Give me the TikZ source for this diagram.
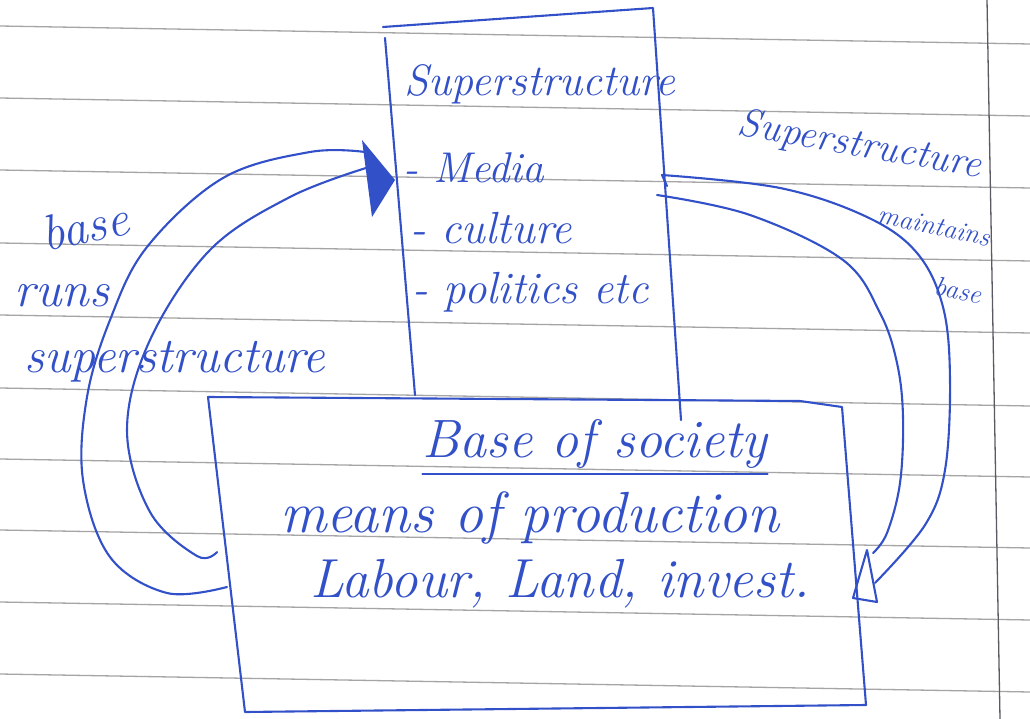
\documentclass[tikz,border=0pt]{standalone}
\usetikzlibrary{arrows.meta}
\definecolor{ink}{RGB}{50,80,200}
\definecolor{rulegray}{RGB}{165,165,165}
\definecolor{margingray}{RGB}{90,90,100}
\begin{document}
\begin{tikzpicture}[x=1pt,y=-1pt,
  inkline/.style={draw=ink,line width=2.1pt,line join=round,line cap=round},
  ruleline/.style={draw=rulegray,line width=1.3pt},
  hand/.style={text=ink,inner sep=0pt,font=\itshape\fontsize{#1}{#1}\selectfont},
  hand/.default=40]
\useasboundingbox (0,0) rectangle (1030,719);
\fill[white] (0,0) rectangle (1030,719);
% ruled paper
\foreach \yy in {26,98,170,243,315,388,459,530,602,674}
  \draw[ruleline] (0,\yy) -- (1030,\yy+18);
\coordinate (mgT) at (987,0);
\coordinate (mgB) at (1000,719);
\draw[draw=margingray,line width=1.3pt] (mgT) -- (mgB);

% superstructure box
\coordinate (sTL) at (383,27);
\coordinate (sTR) at (653,8);
\coordinate (sLt) at (385,38);
\coordinate (sLb) at (415,395);
\coordinate (sRb) at (681,420);
\draw[inkline] (sTL) -- (sTR) -- (sRb);
\draw[inkline] (sLt) -- (sLb);

% base box
\coordinate (bTL) at (208,397);
\coordinate (bTM) at (800,401);
\coordinate (bTR) at (842,407);
\coordinate (bBR) at (866,705);
\coordinate (bBL) at (245,712);
\draw[inkline] (bTL) -- (bTM) -- (bTR) -- (bBR) -- (bBL) -- cycle;

% texts in superstructure box
\node[hand=44] (supT) at (540,84) {Superstructure};
\node[hand=43,anchor=west] (media) at (403,168) {- Media};
\node[hand=45,anchor=west] (cult) at (410,228) {- culture};
\node[hand=45,anchor=west] (pol) at (412,292) {- politics etc};

% texts in base box
\node[hand=54] (bT) at (595,444) {Base of society};
\draw[inkline] ([yshift=-5pt]bT.south west) -- ([yshift=-5pt]bT.south east);
\node[hand=58] (m1) at (530,518) {means of production};
\node[hand=55] (m2) at (560,584) {Labour, Land, invest.};

% left label
\node[hand=50,rotate=12] (lb1) at (85,226) {base};
\node[hand=50] (lb2) at (62,296) {runs};
\node[hand=50] (lb3) at (175,362) {superstructure};

% right label
\node[hand=40,rotate=-10] (rb1) at (860,146) {Superstructure};
\node[hand=27,rotate=-12] (rb2) at (934,226) {maintains};
\node[hand=27,rotate=-12] (rb3) at (958,290) {base};

% left connectors (base -> superstructure)
\coordinate (Lo0) at (227,587);
\coordinate (Lo1) at (365,152);
\coordinate (Li0) at (217,552);
\coordinate (Li1) at (366,168);
\draw[inkline] plot[smooth,tension=0.6] coordinates {(Lo0) (167,593) (110,557) (83,480) (87,397) (110,320) (147,247) (223,178) (310,152) (Lo1)};
\draw[inkline] plot[smooth,tension=0.6] coordinates {(Li0) (197,556) (150,512) (127,430) (150,340) (210,250) (290,197) (Li1)};
\coordinate (LA1) at (362,140);
\coordinate (LA2) at (395,180);
\coordinate (LA3) at (372,217);
\fill[ink] (LA1) -- (LA2) -- (LA3) -- cycle;

% right connectors (superstructure -> base)
\coordinate (Ro0) at (662,175);
\coordinate (Roh) at (667,186);
\coordinate (Ro1) at (875,583);
\coordinate (Ri0) at (657,195);
\coordinate (Ri1) at (873,553);
\draw[inkline] (Roh) -- (Ro0);
\draw[inkline] plot[smooth,tension=0.6] coordinates {(Ro0) (780,188) (867,217) (917,253) (943,307) (950,380) (945,470) (925,525) (Ro1)};
\draw[inkline] plot[smooth,tension=0.6] coordinates {(Ri0) (750,215) (843,260) (880,313) (897,363) (903,417) (900,483) (887,533) (Ri1)};
\coordinate (RA1) at (867,550);
\coordinate (RA2) at (853,598);
\coordinate (RA3) at (877,602);
\draw[inkline] (RA1) -- (RA2) -- (RA3) -- cycle;
\end{tikzpicture}
\end{document}
